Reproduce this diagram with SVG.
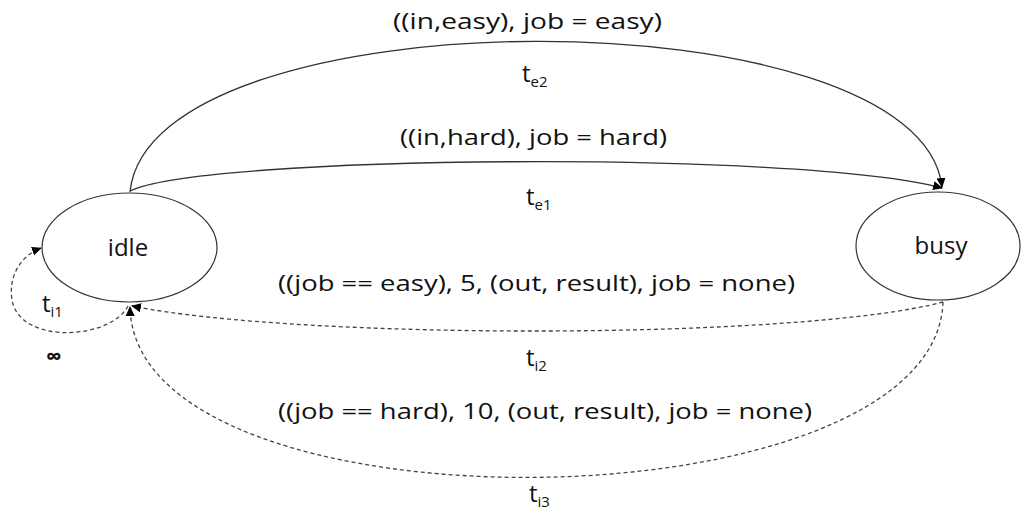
<svg xmlns="http://www.w3.org/2000/svg" width="1023" height="514" viewBox="0 0 1023 514">
<style>
  text { font-family: "Open Sans", "Liberation Sans", sans-serif; font-size: 22px; fill: #111; }
  .big { font-size: 24px; }
  .sub { font-size: 15px; }
  .node { fill: #fff; stroke: #333; stroke-width: 1.2; }
  .edge { fill: none; stroke: #333; stroke-width: 1.3; }
  .dash { fill: none; stroke: #444; stroke-width: 1.3; stroke-dasharray: 4 3; }
</style>
<defs>
  <marker id="arr" markerUnits="userSpaceOnUse" markerWidth="12" markerHeight="12" refX="9" refY="5" orient="auto">
    <path d="M0,0.5 L10,5 L0,9.5 Z" fill="#000"/>
  </marker>
</defs>
<rect width="1023" height="514" fill="#fff"/>
<g id="connectors">
  <path class="edge" d="M130,192 C150,-8 920,-8 942,187" marker-end="url(#arr)"/>
  <path class="edge" d="M130,191 C200,155 800,150 942,188" marker-end="url(#arr)"/>
  <path class="dash" d="M943,302 C800,340 300,340 132,306" marker-end="url(#arr)"/>
  <path class="dash" d="M943,302 C935,530 135,540 130,307" marker-end="url(#arr)"/>
  <path class="dash" d="M128,306 C110,340 20,345 12,300 C8,275 22,255 41,248" marker-end="url(#arr)"/>
</g>
<g id="idle">
  <ellipse class="node" cx="129.5" cy="247.5" rx="87.5" ry="54.5"/>
  <text class="big" x="128" y="256" text-anchor="middle">idle</text>
</g>
<g id="busy">
  <ellipse class="node" cx="938" cy="246" rx="82" ry="54"/>
  <text class="big" x="941" y="254" text-anchor="middle">busy</text>
</g>
<g id="labels">
  <text x="393" y="29" textLength="269" lengthAdjust="spacingAndGlyphs">((in,easy), job = easy)</text>
  <text class="big" x="522" y="82">t<tspan class="sub" dy="5">e2</tspan></text>
  <text x="400" y="145" textLength="267" lengthAdjust="spacingAndGlyphs">((in,hard), job = hard)</text>
  <text class="big" x="526" y="205">t<tspan class="sub" dy="5">e1</tspan></text>
  <text x="278" y="291" textLength="517" lengthAdjust="spacingAndGlyphs">((job == easy), 5, (out, result), job = none)</text>
  <text class="big" x="526" y="366">t<tspan class="sub" dy="5">i2</tspan></text>
  <text x="278" y="419" textLength="534" lengthAdjust="spacingAndGlyphs">((job == hard), 10, (out, result), job = none)</text>
  <text class="big" x="529" y="502">t<tspan class="sub" dy="5">i3</tspan></text>
  <text class="big" x="42" y="312">t<tspan class="sub" dy="5">i1</tspan></text>
  <text x="46" y="364" style="font-weight:bold">∞</text>
</g>
</svg>
